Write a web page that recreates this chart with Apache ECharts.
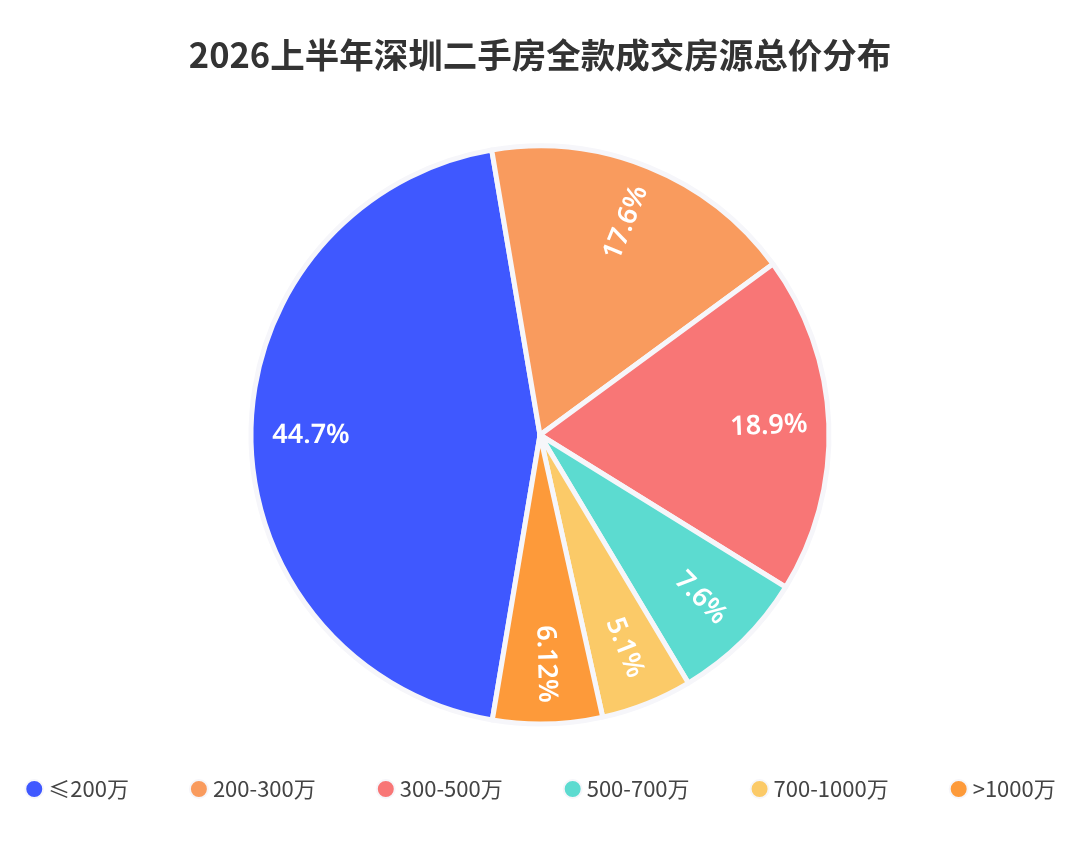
<!DOCTYPE html>
<html>
<head>
<meta charset="utf-8">
<title>2026上半年深圳二手房全款成交房源总价分布</title>
<script src="https://cdn.jsdelivr.net/npm/echarts@6/dist/echarts.min.js"></script>
<style>
  html, body { margin: 0; padding: 0; background: #fff; }
  #chart { width: 1080px; height: 841px; }
</style>
</head>
<body>
<div id="chart"></div>
<script>
// 价格区间与占比(%)
var categories = ['≤200万', '200-300万', '300-500万', '500-700万', '700-1000万', '>1000万'];
var shares = [44.7, 17.6, 18.9, 7.6, 5.1, 6.12];
var colors = ['#3f58ff', '#f99b5e', '#f87676', '#5cdbd0', '#fbca68', '#fd9a3a'];

(function () {
    var myChart = echarts.init(document.getElementById('chart'));
    var font = '"Noto Sans CJK SC", "Noto Sans", sans-serif';

    var pieData = categories.map(function (name, i) {
        return { name: name, value: shares[i] };
    });
    // 标签层用透明扇区, 把文字放到更靠外的位置
    var labelData = categories.map(function (name, i) {
        return { name: name, value: shares[i], itemStyle: { color: 'rgba(0,0,0,0)' } };
    });

    var option = {
        color: colors,
        title: {
            text: '2026上半年深圳二手房全款成交房源总价分布',
            left: 'center',
            top: 33,
            textStyle: { fontFamily: font, fontSize: 34.5, fontWeight: 'bold', color: '#333' }
        },
        legend: {
            data: categories,
            left: 'center',
            top: 773,
            icon: 'circle',
            itemWidth: 18,
            itemHeight: 18,
            itemGap: 60,
            textStyle: { fontFamily: font, fontSize: 22, color: '#444' }
        },
        series: [
            {
                type: 'pie',
                center: [540, 435],
                radius: [0, 289],
                startAngle: 260.5,
                silent: true,
                itemStyle: { borderColor: '#f6f6fa', borderWidth: 5 },
                label: { show: false },
                labelLine: { show: false },
                data: pieData
            },
            {
                type: 'pie',
                center: [540, 435],
                radius: [163, 289],
                startAngle: 260.5,
                silent: true,
                label: {
                    show: true,
                    position: 'inside',
                    rotate: 'radial',
                    formatter: '{c}%',
                    fontFamily: '"Noto Sans", "Open Sans", sans-serif',
                    fontSize: 27,
                    fontWeight: 600,
                    color: '#fff'
                },
                labelLine: { show: false },
                data: labelData
            }
        ]
    };
    myChart.setOption(option);
})();
</script>
</body>
</html>
